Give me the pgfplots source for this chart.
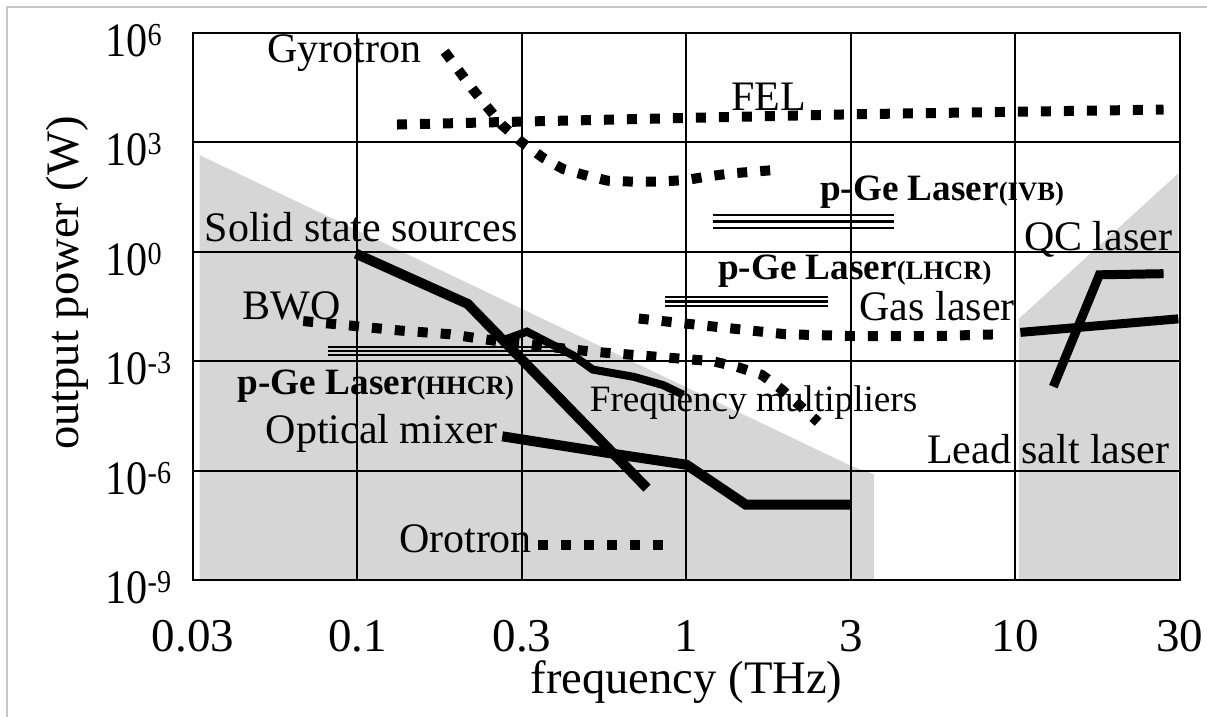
\documentclass[border=0pt]{standalone}
\usepackage{fontspec}
\setmainfont{Liberation Serif}
\newfontfamily\condfont{Liberation Serif}[FakeStretch=0.88]
\usepackage{pgfplots}
\pgfplotsset{compat=1.18}
\newcommand\ylab[1]{10\raisebox{5.5pt}{\fontsize{16}{16}\selectfont #1}}
\newcommand\fs[1]{\fontsize{#1}{#1}\selectfont}
\tikzset{
  dotted line/.style={line width=5pt, dash pattern=on 5pt off 6.5pt, line cap=butt},
  thick line/.style={line width=5pt, line cap=butt, line join=miter},
  triple/.style={line width=0.9pt},
  lab/.style={anchor=base west, inner sep=0pt, font=\fs{21}},
  blab/.style={anchor=base west, inner sep=0pt, font=\fs{18.6}\bfseries},
}
\begin{document}
\begin{tikzpicture}
\useasboundingbox (-96.5pt,-68.5pt) rectangle (507pt,290pt);
\draw[black!22, line width=0.8pt] (-93pt,-68.5pt) -- (-93pt,286.5pt) -- (507pt,286.5pt);
\begin{axis}[
  at={(0pt,0pt)}, anchor=south west,
  scale only axis, width=493.5pt, height=273.5pt,
  xmin=0, xmax=6, ymin=1e-9, ymax=1e6, ymode=log,
  xtick={0,1,2,3,4,5,6}, xticklabels={0.03,0.1,0.3,1,3,10,30},
  ytick={1e-9,1e-6,1e-3,1,1e3,1e6},
  yticklabels={\ylab{-9},\ylab{-6},\ylab{-3},\ylab{0},\ylab{3},\ylab{6}},
  minor ytick={}, 
  grid=major, major grid style={black, line width=1pt},
  major tick length=0pt,
  axis line style={line width=1.3pt},
  axis on top,
  xticklabel style={font=\fs{23.5}, anchor=base, inner sep=0pt, yshift=-35.5pt},
  yticklabel style={font=\condfont\fs{24}, anchor=base west, inner sep=0pt, xshift=-44pt, yshift=-11.75pt},
  xlabel={frequency (THz)},
  ylabel={output power (W)},
  xlabel style={font=\fs{23.3}, at={(axis description cs:0.5,-0.2084)}, anchor=base, inner sep=0pt},
  ylabel style={font=\fs{23.3}, at={(axis description cs:-0.1165,0.543)}, anchor=base, inner sep=0pt},
]
% shaded regions
\addplot[fill=black!16, draw=none] coordinates {(0.04,447) (4.0,1.35e-6) (4.14,7.9e-7) (4.14,1e-9) (0.04,1e-9)} -- cycle;
\addplot[fill=black!16, draw=none] coordinates {(5.02,1e-9) (5.02,1.45e-2) (5.99,141) (5.99,1e-9)} -- cycle;

% Gyrotron
\addplot[dotted line] coordinates {(1.53,3.09e5) (1.70,2.88e4) (1.88,2.95e3) (2.0,1e3) (2.13,372) (2.25,186) (2.4,120) (2.52,89) (2.7,83) (2.85,85) (3.0,93) (3.12,115) (3.27,141) (3.53,174)};
% FEL
\addplot[dotted line] coordinates {(1.24,3.09e3) (2,3.72e3) (3,4.68e3) (4,5.89e3) (5,6.92e3) (5.9,7.94e3)};
% BWO
\addplot[dotted line] coordinates {(0.67,1.26e-2) (0.95,9.55e-3) (1.26,6.92e-3) (1.56,5.5e-3) (1.85,3.55e-3) (2.43,1.82e-3) (2.88,1.26e-3) (3.16,1e-3) (3.31,6.92e-4) (3.46,4.17e-4) (3.58,1.66e-4) (3.69,6.03e-5) (3.80,2.14e-5)};
% Gas laser
\addplot[dotted line] coordinates {(2.71,1.48e-2) (3.0,1.07e-2) (3.31,7.59e-3) (3.6,5.5e-3) (4.0,4.9e-3) (4.52,4.9e-3) (4.92,5.5e-3)};
% Orotron
\addplot[dotted line] coordinates {(2.1,9.3e-9) (2.92,9.3e-9)};

% Solid state sources
\addplot[thick line] coordinates {(0.99,0.89) (1.67,3.72e-2) (2.76,3.31e-7)};
% Frequency multipliers
\addplot[thick line, line width=4pt] coordinates {(1.87,3.55e-3) (2.03,6.46e-3) (2.31,1.45e-3) (2.43,5.89e-4) (2.68,3.72e-4) (2.86,2.19e-4) (2.98,1.2e-4)};
% Optical mixer
\addplot[thick line] coordinates {(1.88,8.71e-6) (2.6,2.69e-6) (3.0,1.45e-6) (3.36,1.17e-7) (4.0,1.17e-7)};
% Lead salt / gas laser (solid)
\addplot[thick line, line width=4.5pt] coordinates {(5.03,6.17e-3) (5.99,1.45e-2)};
% QC laser
\addplot[thick line, line width=4.5pt] coordinates {(5.23,2.0e-4) (5.51,0.234) (5.9,0.251)};

% p-Ge lasers (triple lines)
\addplot[triple] coordinates {(3.16,10.2) (4.26,10.2)};
\addplot[triple, line width=1.4pt] coordinates {(3.16,6.92) (4.26,6.92)};
\addplot[triple] coordinates {(3.16,4.57) (4.26,4.57)};
\addplot[triple] coordinates {(2.87,5.62e-2) (3.86,5.62e-2)};
\addplot[triple, line width=1.4pt] coordinates {(2.87,4.27e-2) (3.86,4.27e-2)};
\addplot[triple] coordinates {(2.87,3.24e-2) (3.86,3.24e-2)};
\addplot[triple] coordinates {(0.82,2.51e-3) (2.27,2.51e-3)};
\addplot[triple] coordinates {(0.82,1.95e-3) (2.27,1.95e-3)};
\addplot[triple] coordinates {(0.82,1.51e-3) (2.27,1.51e-3)};

% labels
\node[lab] at (axis cs:0.45,1.58e5) {Gyrotron};
\node[lab] at (axis cs:3.27,7.6e3) {FEL};
\node[lab] at (axis cs:0.07,1.95) {Solid state sources};
\node[lab] at (axis cs:0.30,1.41e-2) {BWO};
\node[blab] at (axis cs:0.27,1.2e-4) {p-Ge Laser{\fs{13.3}(HHCR)}};
\node[lab] at (axis cs:0.44,5.37e-6) {Optical mixer};
\node[lab] at (axis cs:1.25,5.62e-9) {Orotron};
\node[lab, font=\fs{18.6}] at (axis cs:2.41,4.27e-5) {Frequency multipliers};
\node[blab] at (axis cs:3.81,26.3) {p-Ge Laser{\fs{13.3}(IVB)}};
\node[blab] at (axis cs:3.19,0.17) {p-Ge Laser{\fs{13.3}(LHCR)}};
\node[lab] at (axis cs:4.05,1.32e-2) {Gas laser};
\node[lab] at (axis cs:5.05,1.1) {QC laser};
\node[lab] at (axis cs:4.46,1.58e-6) {Lead salt laser};
\end{axis}
\end{tikzpicture}
\end{document}
